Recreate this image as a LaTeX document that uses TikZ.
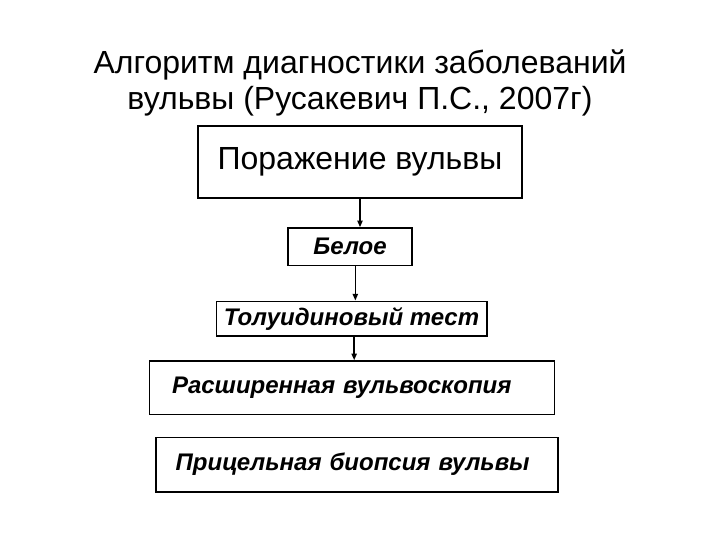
\documentclass[tikz,border=0pt]{standalone}
\usepackage{fontspec}
\setmainfont{Liberation Sans}
\usetikzlibrary{positioning,arrows.meta}
\tikzset{
    stage/.style={
        rectangle,
        draw,
        line width=1pt,
        font=\fontsize{18}{21}\selectfont\bfseries\itshape
    },
    arrow/.style={-{Triangle[length=5pt,width=4pt]}, line width=1.1pt}
}

\begin{document}
\begin{tikzpicture}[x=0.75pt,y=-0.75pt]
    \useasboundingbox (0,0) rectangle (720,540);

    % title
    \node[align=center, font=\fontsize{24}{27}\selectfont] (title) at (360,83)
        {Алгоритм диагностики заболеваний\\вульвы (Русакевич П.С., 2007г)};

    % boxes
    \node[stage, minimum width=243pt, minimum height=54pt,
          font=\fontsize{24}{27}\selectfont] (lesion) at (360,162) {Поражение вульвы};
    \node[stage, minimum width=93pt, minimum height=28pt] (white) at (350,246.5) {Белое};
    \node[stage, minimum width=203pt, minimum height=26pt] (test) at (351.5,318.5) {Толуидиновый тест};
    \node[stage, minimum width=301.5pt, minimum height=40pt, text width=270pt,
          inner xsep=17pt, align=left] (scopy) at (352,387.5) {Расширенная вульвоскопия};
    \node[stage, minimum width=301.5pt, minimum height=41pt, text width=272pt,
          inner xsep=14pt, align=left] (biopsy) at (357,464.5) {Прицельная биопсия вульвы};

    % arrows
    \draw[arrow] (lesion.south) -- (lesion.south |- white.north);
    \draw[arrow] ([xshift=4pt]white.south) -- ([xshift=4pt]white.south |- test.north);
    \draw[arrow] ([xshift=2pt]test.south) -- ([xshift=2pt]test.south |- scopy.north);

\end{tikzpicture}
\end{document}
